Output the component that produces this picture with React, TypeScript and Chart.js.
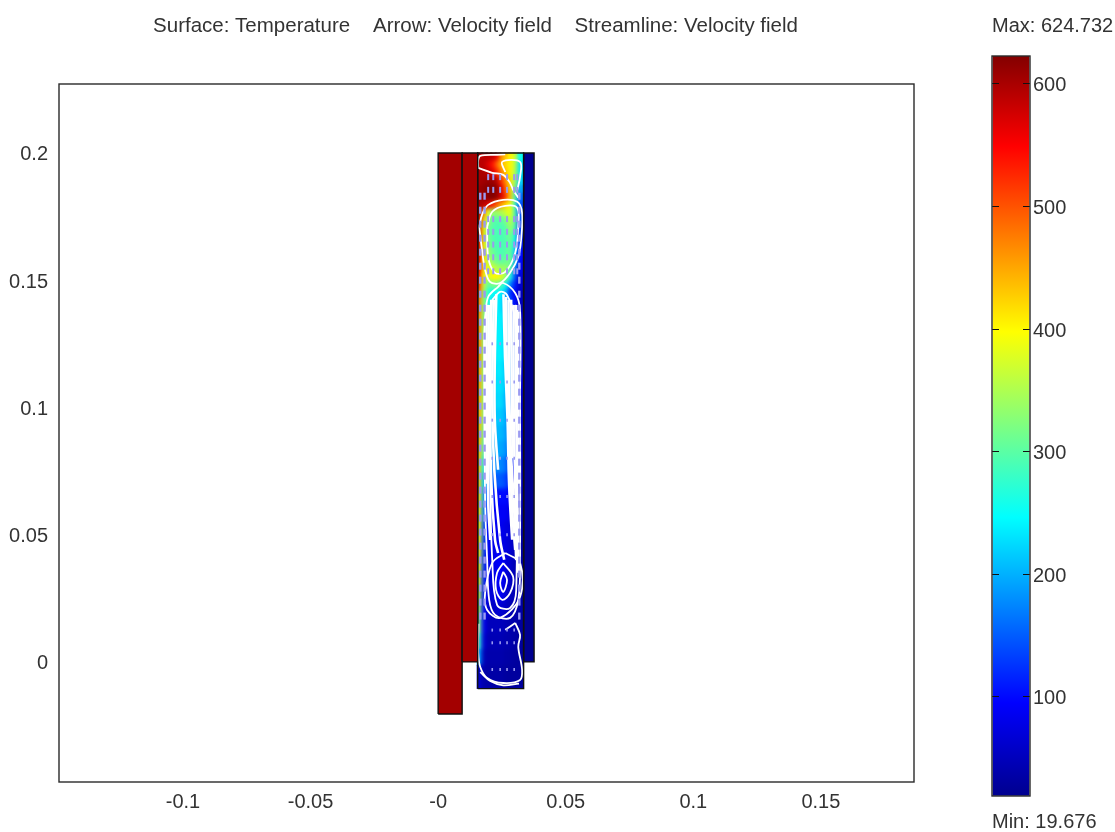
import React, { useEffect, useRef } from "react";
import { Chart, registerables } from "chart.js";

Chart.register(...registerables);

const titleText = "Surface: Temperature    Arrow: Velocity field    Streamline: Velocity field";
const maxText = "Max: 624.732";
const minText = "Min: 19.676";

const xTicks = [-0.1, -0.05, 0, 0.05, 0.1, 0.15];
const yTicks = [0, 0.05, 0.1, 0.15, 0.2];
const barTicks = [100, 200, 300, 400, 500, 600];

const tempMin = 19.676;
const tempMax = 624.732;
const jetStops: [number, string][] = [
  [0, "#00008f"],
  [0.125, "#0000ff"],
  [0.375, "#00ffff"],
  [0.625, "#ffff00"],
  [0.875, "#ff0000"],
  [1, "#800000"],
];

const wallOuter = [[0, -0.0205], [0.0094, -0.0205], [0.0094, 0.2], [0, 0.2], [0, -0.0205]];
const wallInner = [[0.0094, 0], [0.0155, 0], [0.0155, 0.2], [0.0094, 0.2], [0.0094, 0]];
const wallCold = [[0.0335, 0], [0.0376, 0], [0.0376, 0.2], [0.0335, 0.2], [0.0335, 0]];
const fluidOutline = [[0.0155, -0.0105], [0.0335, -0.0105], [0.0335, 0.2], [0.0155, 0.2], [0.0155, -0.0105]];

const fieldColumns = [0.0164, 0.0182, 0.0199, 0.0217, 0.0235, 0.0252, 0.027, 0.0287, 0.0305, 0.0323];
const fieldRowEdges = [
  0.2, 0.1969, 0.1937, 0.1906, 0.1874, 0.1843, 0.1811, 0.178, 0.1749, 0.1717, 0.1686, 0.1654, 0.1623, 0.1591, 0.156,
  0.1529, 0.1497, 0.1466, 0.1434, 0.1371, 0.1308, 0.1245, 0.1182, 0.112, 0.1057, 0.0994, 0.0931, 0.0868, 0.0805,
  0.0742, 0.0679, 0.0617, 0.0554, 0.0491, 0.0428, 0.0365, 0.0302, 0.0239, 0.0176, 0.0113, 0.005, -0.0013, -0.0105,
];
const fieldTemps = [
  [590, 590, 590, 585, 560, 460, 430, 400, 370, 250],
  [590, 590, 570, 540, 490, 440, 420, 400, 360, 230],
  [600, 600, 590, 570, 530, 470, 430, 400, 350, 230],
  [600, 605, 610, 610, 590, 520, 460, 410, 340, 220],
  [605, 615, 622, 624, 615, 560, 480, 420, 320, 190],
  [605, 610, 620, 624, 610, 570, 510, 430, 290, 160],
  [600, 590, 570, 530, 490, 450, 420, 390, 280, 140],
  [600, 470, 380, 330, 340, 350, 370, 390, 290, 140],
  [590, 420, 340, 300, 295, 300, 320, 360, 300, 140],
  [590, 400, 320, 295, 290, 290, 300, 340, 290, 130],
  [590, 400, 320, 295, 290, 290, 295, 320, 260, 120],
  [580, 400, 330, 300, 290, 290, 295, 310, 240, 110],
  [570, 410, 340, 310, 295, 290, 300, 310, 220, 100],
  [570, 410, 360, 330, 310, 300, 310, 320, 210, 90],
  [560, 410, 380, 370, 350, 340, 340, 300, 180, 80],
  [540, 390, 370, 400, 400, 380, 330, 260, 140, 70],
  [520, 370, 300, 320, 320, 290, 250, 170, 110, 60],
  [500, 350, 270, 250, 250, 240, 200, 120, 90, 50],
  [480, 340, 260, 230, 240, 230, 190, 130, 100, 50],
  [470, 340, 250, 230, 240, 240, 210, 160, 120, 60],
  [470, 340, 250, 225, 240, 240, 220, 180, 140, 70],
  [470, 340, 250, 225, 240, 240, 220, 180, 150, 70],
  [460, 340, 250, 225, 235, 235, 210, 180, 150, 70],
  [460, 340, 240, 220, 230, 230, 210, 175, 140, 70],
  [455, 340, 240, 215, 225, 225, 200, 170, 130, 60],
  [450, 340, 230, 210, 215, 215, 195, 165, 120, 60],
  [445, 320, 220, 200, 205, 205, 190, 160, 110, 60],
  [440, 300, 210, 190, 195, 195, 180, 150, 100, 55],
  [440, 260, 190, 170, 180, 175, 160, 130, 90, 50],
  [430, 220, 170, 150, 150, 150, 135, 110, 80, 50],
  [420, 200, 130, 110, 100, 100, 100, 90, 70, 45],
  [410, 180, 110, 90, 90, 90, 90, 75, 65, 40],
  [400, 150, 90, 85, 85, 85, 75, 70, 55, 40],
  [400, 140, 85, 80, 85, 85, 70, 65, 50, 35],
  [390, 130, 80, 75, 90, 95, 70, 60, 45, 35],
  [380, 120, 75, 70, 90, 95, 70, 55, 45, 35],
  [360, 110, 70, 65, 85, 90, 65, 50, 45, 35],
  [340, 100, 60, 55, 65, 65, 55, 45, 40, 35],
  [320, 90, 50, 50, 50, 50, 45, 40, 40, 30],
  [280, 70, 45, 45, 45, 45, 40, 40, 35, 30],
  [200, 50, 40, 40, 40, 40, 35, 35, 30, 30],
  [60, 40, 35, 35, 35, 35, 30, 30, 30, 30],
];

const streamlines = [
  [[0.0157, 0.1941], [0.0157, 0.1973], [0.0165, 0.1989], [0.0231, 0.1993], [0.0263, 0.1995]],
  [[0.0157, 0.1941], [0.0212, 0.1922], [0.0255, 0.1914], [0.0282, 0.1882], [0.0294, 0.1855], [0.0314, 0.1824]],
  [[0.0263, 0.1925], [0.0251, 0.1965], [0.0321, 0.1965], [0.0321, 0.1906], [0.031, 0.1855]],
  [[0.0161, 0.171], [0.0172, 0.1757], [0.0196, 0.1796], [0.0255, 0.1816], [0.031, 0.1808], [0.0329, 0.1765], [0.0325, 0.1658], [0.0314, 0.1592], [0.0282, 0.1529], [0.0243, 0.1489], [0.0204, 0.1493], [0.0184, 0.1541], [0.0172, 0.1619], [0.0161, 0.171]],
  [[0.0192, 0.171], [0.0212, 0.1769], [0.0263, 0.1792], [0.031, 0.1784], [0.0314, 0.171], [0.0302, 0.1607], [0.0263, 0.1533], [0.0223, 0.1529], [0.0196, 0.1592], [0.0192, 0.171]],
  [[0.0184, 0.1356], [0.018, 0.1265], [0.0184, 0.0637], [0.0192, 0.0401], [0.02, 0.0244], [0.0223, 0.0185], [0.0282, 0.0173], [0.0314, 0.0244], [0.0321, 0.0401], [0.0321, 0.103], [0.0321, 0.1383], [0.0302, 0.145], [0.0255, 0.1489], [0.0235, 0.1474], [0.0196, 0.1434], [0.0184, 0.1356]],
  [[0.0212, 0.1423], [0.0204, 0.1305], [0.0204, 0.0715], [0.0212, 0.0401], [0.0231, 0.0224], [0.0282, 0.0212], [0.0306, 0.0283], [0.0306, 0.103], [0.0302, 0.1344], [0.0270, 0.1442], [0.0243, 0.1454], [0.0212, 0.1423]],
  [[0.0255, 0.0389], [0.0294, 0.0334], [0.0282, 0.0271], [0.0251, 0.0244], [0.0227, 0.0283], [0.0231, 0.035], [0.0255, 0.0389]],
  [[0.0255, 0.0354], [0.027, 0.0322], [0.0255, 0.0275], [0.0243, 0.031], [0.0255, 0.0354]],
  [[0.0263, 0.0428], [0.0321, 0.0389], [0.0321, 0.0255], [0.0243, 0.0173], [0.0192, 0.0204], [0.0184, 0.0271], [0.0212, 0.0389], [0.0263, 0.0428]],
  [[0.0158, 0.015], [0.0157, 0.0035], [0.0165, -0.002], [0.0192, -0.0063], [0.0255, -0.0083], [0.0321, -0.0071], [0.0329, -0.0031], [0.0314, 0.0059], [0.0321, 0.0106], [0.0302, 0.0153]],
  [[0.0165, -0.004], [0.0204, -0.0075], [0.0255, -0.0092], [0.0317, -0.0085]],
  [[0.0302, 0.0153], [0.0263, 0.0126]],
];
const denseStreamlines = [
  [[0.019, 0.1403], [0.0188, 0.103], [0.019, 0.07]],
  [[0.0198, 0.1403], [0.0196, 0.103], [0.0196, 0.0637], [0.0204, 0.0479]],
  [[0.0208, 0.1423], [0.0204, 0.103], [0.0208, 0.0715], [0.0223, 0.0479], [0.0235, 0.0428]],
  [[0.0218, 0.1423], [0.0212, 0.103], [0.022, 0.0755], [0.0243, 0.0479], [0.0259, 0.0401]],
  [[0.0228, 0.1445], [0.0222, 0.118], [0.0222, 0.095], [0.0235, 0.0755]],
  [[0.0256, 0.1445], [0.0262, 0.12], [0.0272, 0.095], [0.0278, 0.07], [0.029, 0.048]],
  [[0.0266, 0.1434], [0.027, 0.11], [0.0278, 0.09], [0.029, 0.06], [0.0302, 0.044]],
  [[0.0276, 0.1423], [0.0278, 0.11], [0.0284, 0.085], [0.0298, 0.06], [0.0306, 0.04]],
  [[0.0286, 0.1423], [0.0288, 0.11], [0.0292, 0.08]],
  [[0.0296, 0.1403], [0.0296, 0.1], [0.0302, 0.07], [0.031, 0.04]],
  [[0.0306, 0.1403], [0.0306, 0.1], [0.031, 0.07], [0.0314, 0.035]],
  [[0.0314, 0.1383], [0.0314, 0.1], [0.0317, 0.07]],
];

const arrowLongX = [0.0165, 0.0182, 0.0318];
const arrowLongY = [
  0.183, 0.1775, 0.172, 0.1665, 0.161, 0.1555, 0.15, 0.1445, 0.139, 0.1335, 0.128, 0.1225, 0.117, 0.1115, 0.106, 0.1005,
  0.095, 0.0895, 0.084, 0.0785, 0.073, 0.0675, 0.062, 0.0565, 0.051, 0.0455, 0.04, 0.0345, 0.029, 0.0235, 0.018,
];
const arrowCellX = [0.0196, 0.0216, 0.0243, 0.027, 0.0298, 0.031];
const arrowCellY = [0.1905, 0.1855, 0.174, 0.169, 0.164, 0.159, 0.1535];
const arrowMidX = [0.0212, 0.0243, 0.027, 0.0298];
const arrowMidY = [0.125, 0.11, 0.095, 0.08, 0.065, 0.05, 0.0125, 0.0075, -0.003];

const jetColor = (t: number) => {
  const v = Math.min(1, Math.max(0, (t - tempMin) / (tempMax - tempMin)));
  for (let i = 1; i < jetStops.length; i++) {
    if (v <= jetStops[i][0]) {
      const [a, ca] = jetStops[i - 1];
      const [b, cb] = jetStops[i];
      const f = (v - a) / (b - a);
      const ch = (c: string, p: number) => parseInt(c.slice(p, p + 2), 16);
      const mix = (p: number) => Math.round(ch(ca, p) + (ch(cb, p) - ch(ca, p)) * f);
      return `rgb(${mix(1)},${mix(3)},${mix(5)})`;
    }
  }
  return jetStops[jetStops.length - 1][1];
};

const toXY = (pts: number[][]) => pts.map(([x, y]) => ({ x, y }));
const textFont = "'Liberation Sans', Arial, sans-serif";
const ink = "#333333";

const framePlugin = {
  id: "frame",
  afterDraw(chart: any) {
    const { ctx, chartArea: a } = chart;
    ctx.save();
    ctx.strokeStyle = "#2a2a2a";
    ctx.lineWidth = 1.4;
    ctx.strokeRect(a.left, a.top, a.right - a.left, a.bottom - a.top);
    ctx.restore();
  },
};

const softenRegion = (chart: any, radius: number, pad: number) => {
  const { ctx, scales, canvas } = chart;
  const l = Math.round(scales.x.getPixelForValue(fluidOutline[0][0])) + pad;
  const r = Math.round(scales.x.getPixelForValue(fluidOutline[1][0])) - pad;
  const t = Math.round(scales.y.getPixelForValue(fluidOutline[2][1])) + pad;
  const b = Math.round(scales.y.getPixelForValue(fluidOutline[0][1])) - pad;
  ctx.save();
  ctx.beginPath();
  ctx.rect(l, t, r - l, b - t);
  ctx.clip();
  ctx.filter = `blur(${radius}px)`;
  ctx.drawImage(canvas, l, t, r - l, b - t, l, t, r - l, b - t);
  ctx.restore();
};

const smoothFieldPlugin = {
  id: "smoothField",
  afterLayout(chart: any) {
    // The title is centred over the plot's drawing block in the reference, not over the canvas.
    chart.titleBlock.left = 37;
  },
  afterDatasetDraw(chart: any, args: any) {
    if (args.index === 0) softenRegion(chart, 2, 0);
  },
  afterDatasetsDraw(chart: any) {
    softenRegion(chart, 0.6, 1);
  },
};

export default function App() {
  const mainRef = useRef<HTMLCanvasElement>(null);
  const barRef = useRef<HTMLCanvasElement>(null);

  useEffect(() => {
    const cells: { x: number; y: number[] }[] = [];
    const cellColors: string[] = [];
    fieldTemps.forEach((row, r) =>
      row.forEach((t, c) => {
        cells.push({ x: fieldColumns[c], y: [fieldRowEdges[r + 1], fieldRowEdges[r]] });
        cellColors.push(jetColor(t));
      })
    );
    const poly = (label: string, pts: number[][], fillColor: string | null, order: number) => ({
      type: "line",
      label,
      data: toXY(pts),
      borderColor: "#111",
      borderWidth: 1.4,
      backgroundColor: fillColor ?? "transparent",
      fill: fillColor ? "shape" : false,
      pointRadius: 0,
      tension: 0,
      order,
    });
    const stream = (pts: number[][], i: number, w: number) => ({
      type: "line",
      label: `streamline ${i}`,
      data: toXY(pts),
      borderColor: "#ffffff",
      borderWidth: w,
      pointRadius: 0,
      tension: 0.35,
      fill: false,
      order: 3,
    });
    const cross = (xs: number[], ys: number[]) => xs.flatMap((x) => ys.map((y) => ({ x, y })));
    const arrows = (label: string, pts: { x: number; y: number }[], radius: number, width: number) => ({
      type: "scatter",
      label,
      data: pts,
      pointStyle: "line",
      pointRotation: 90,
      pointRadius: radius,
      pointBorderColor: "#9a9af0",
      pointBorderWidth: width,
      order: 2,
    });
    const main = new Chart(mainRef.current!, {
      type: "bar",
      data: {
        datasets: [
          {
            type: "bar",
            label: "Temperature",
            data: cells,
            backgroundColor: cellColors,
            barThickness: 6,
            grouped: false,
            borderWidth: 0,
            order: 10,
          },
          poly("wall outer", wallOuter, "#a30000", 9),
          poly("wall inner", wallInner, "#a30000", 8),
          poly("wall cold", wallCold, "#00008f", 7),
          ...denseStreamlines.map((s, i) => stream(s, i, 2.6)),
          ...streamlines.map((s, i) => stream(s, i + 100, 1.8)),
          arrows("Velocity arrows long", cross(arrowLongX, arrowLongY), 3.5, 2.4),
          arrows("Velocity arrows cell", cross(arrowCellX, arrowCellY), 3, 2),
          arrows("Velocity arrows short", cross(arrowMidX, arrowMidY), 1.5, 1.6),
          poly("fluid", fluidOutline, null, 1),
        ],
      } as any,
      options: {
        animation: false,
        responsive: false,
        layout: { padding: { right: 37 } },
        plugins: {
          legend: { display: false },
          tooltip: { enabled: false },
          filler: { drawTime: "beforeDatasetDraw" },
          title: {
            display: true,
            text: titleText,
            color: ink,
            font: { family: textFont, size: 20.5, weight: "normal", lineHeight: 1.2 },
            padding: { top: 14, bottom: 45.4 },
          },
        },
        scales: {
          x: {
            type: "linear",
            offset: false,
            min: -0.1486,
            max: 0.1865,
            afterBuildTicks: (s: any) => {
              s.ticks = xTicks.map((value) => ({ value }));
            },
            afterFit: (s: any) => {
              s.height = 50;
            },
            grid: { display: false, drawTicks: false },
            border: { display: false },
            ticks: {
              autoSkip: false,
              maxRotation: 0,
              padding: 8,
              color: ink,
              font: { family: textFont, size: 20 },
              callback: (v: any) => (Number(v) === 0 ? "-0" : String(v)),
            },
          },
          y: {
            type: "linear",
            min: -0.0472,
            max: 0.2271,
            afterBuildTicks: (s: any) => {
              s.ticks = yTicks.map((value) => ({ value }));
            },
            afterFit: (s: any) => {
              s.width = 59;
            },
            grid: { display: false, drawTicks: false },
            border: { display: false },
            ticks: {
              autoSkip: false,
              padding: 11,
              labelOffset: 2,
              color: ink,
              font: { family: textFont, size: 20 },
              callback: (v: any) => String(v),
            },
          },
        },
      } as any,
      plugins: [smoothFieldPlugin, framePlugin],
    });

    const colorbar = new Chart(barRef.current!, {
      type: "bar",
      data: {
        labels: ["Temperature"],
        datasets: [
          {
            data: [[tempMin, tempMax]],
            barThickness: 36,
            borderWidth: 0,
            backgroundColor: (c: any) => {
              const { chart } = c;
              if (!chart.chartArea) return jetStops[0][1];
              const s = chart.scales.y;
              const g = chart.ctx.createLinearGradient(0, s.getPixelForValue(tempMin), 0, s.getPixelForValue(tempMax));
              jetStops.forEach(([p, col]) => g.addColorStop(p, col));
              return g;
            },
          },
        ],
      } as any,
      options: {
        animation: false,
        responsive: false,
        layout: { padding: { left: 2 } },
        plugins: {
          legend: { display: false },
          tooltip: { enabled: false },
          title: {
            display: true,
            align: "start",
            text: maxText,
            color: ink,
            font: { family: textFont, size: 20, weight: "normal", lineHeight: 1.2 },
            padding: { top: 14, bottom: 18 },
          },
          subtitle: {
            display: true,
            position: "bottom",
            align: "start",
            text: minText,
            color: ink,
            font: { family: textFont, size: 20, weight: "normal", lineHeight: 1 },
            padding: { top: 16, bottom: 0 },
          },
        },
        scales: {
          x: { display: false },
          y: {
            position: "right",
            min: 19.2,
            max: 622.8,
            afterBuildTicks: (s: any) => {
              s.ticks = barTicks.map((value) => ({ value }));
            },
            afterFit: (s: any) => {
              s.width = 85;
            },
            border: { display: false, dash: [7, 24, 7, 10] },
            grid: { color: "#111", lineWidth: 1, drawTicks: false, z: 1 },
            ticks: {
              autoSkip: false,
              padding: 3,
              labelOffset: 2,
              color: ink,
              font: { family: textFont, size: 20 },
              callback: (v: any) => String(v),
            },
          },
        },
      } as any,
      plugins: [framePlugin],
    });
    return () => {
      main.destroy();
      colorbar.destroy();
    };
  }, []);

  return (
    <div style={{ position: "absolute", left: 0, top: 0, width: 1115, height: 832, overflow: "hidden", background: "#fff" }}>
      <canvas ref={mainRef} width={951} height={832} style={{ position: "absolute", left: 0, top: 0, width: 951, height: 832 }} />
      <canvas ref={barRef} width={125} height={832} style={{ position: "absolute", left: 990, top: 0, width: 125, height: 832 }} />
    </div>
  );
}
